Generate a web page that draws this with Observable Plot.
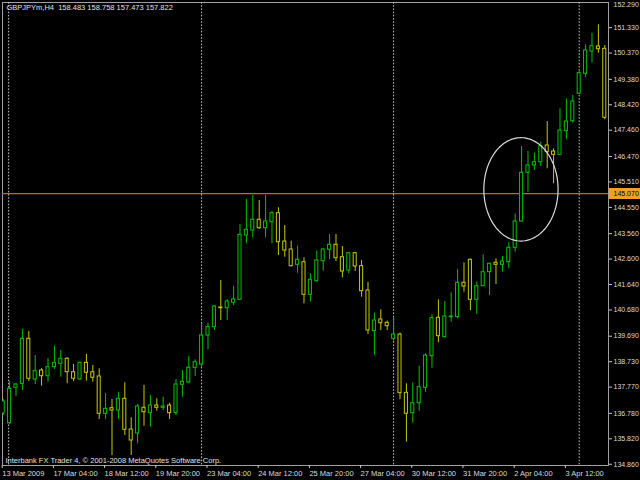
<!DOCTYPE html>
<html><head><meta charset="utf-8">
<script src="https://cdn.jsdelivr.net/npm/d3@7"></script>
<script src="https://cdn.jsdelivr.net/npm/@observablehq/plot@0.6"></script>
<style>html,body{margin:0;padding:0;background:#000;} #chart svg{display:block}</style>
</head><body><div id="chart"></div>
<script>
const headerText = "GBPJPYm,H4\u00a0\u00a0158.483 158.758 157.473 157.822";
const footerText = "Interbank FX Trader 4, \u00a9 2001-2008 MetaQuotes Software Corp.";

const opens = [136.775,136.409,137.744,137.894,139.592,138.057,138.397,138.182,138.521,138.649,
138.838,138.332,138.057,138.687,138.332,138.171,136.763,136.975,136.888,137.329,
136.171,136.020,136.990,136.786,137.076,136.990,137.076,136.786,137.858,137.944,
138.499,138.623,139.717,140.030,140.773,140.747,140.950,141.063,143.490,143.678,
144.082,143.765,143.992,144.331,143.263,142.961,142.384,142.483,141.252,141.765,
142.520,142.950,143.139,142.671,142.169,142.822,142.332,141.414,139.880,140.320,
140.196,139.592,139.755,137.555,136.786,137.163,137.744,138.936,140.385,139.653,
140.407,140.407,141.705,142.573,141.063,141.577,142.105,142.459,142.384,142.483,
143.026,144.018,145.855,146.130,146.254,146.884,146.658,146.533,147.424,147.801,
148.835,149.589,150.430,150.619,150.532];
const highs = [137.303,137.982,137.906,139.943,139.868,138.962,138.472,138.849,139.314,139.151,
138.876,138.623,138.710,139.000,138.585,138.461,137.518,137.303,137.578,137.933,
136.612,137.114,137.831,137.454,137.329,137.389,137.163,138.057,138.397,138.925,
138.800,140.170,140.181,140.849,141.791,141.063,141.565,143.905,144.848,144.999,
144.810,144.999,144.395,144.535,143.867,143.275,143.086,142.648,142.044,142.897,
142.988,143.527,143.527,143.074,142.860,142.860,142.546,141.727,140.560,140.686,
140.257,140.407,139.804,137.894,137.933,138.559,139.027,140.498,141.063,140.999,
141.327,142.207,142.459,142.600,141.727,142.761,142.444,142.610,142.697,143.214,
144.308,146.847,146.658,146.594,147.009,147.790,146.760,148.269,148.646,148.770,
149.676,150.683,151.120,151.437,150.657];
const lows = [136.699,136.360,137.416,137.642,137.982,137.869,137.804,137.955,138.434,138.144,
137.894,137.982,138.019,137.993,137.955,136.548,136.548,135.190,136.548,135.945,
135.190,135.632,136.296,136.258,136.861,136.888,136.548,136.699,137.389,137.894,
138.171,138.521,139.177,139.906,140.283,140.283,140.849,141.037,143.177,143.403,
143.716,143.403,143.177,142.735,142.671,142.302,142.068,140.913,140.973,141.735,
142.143,142.584,142.508,141.893,142.044,142.131,141.162,139.755,138.962,139.906,
139.906,139.502,137.291,135.692,136.409,136.861,137.578,138.484,139.442,139.630,
140.219,140.347,141.350,140.660,140.509,141.565,141.226,141.640,142.105,142.233,
142.860,143.992,145.123,145.941,146.092,146.005,145.440,146.507,147.099,147.726,
148.808,149.438,150.004,150.366,147.854];
const closes = [137.227,137.706,137.869,139.592,138.084,138.370,138.182,138.521,138.687,138.838,
138.332,138.084,138.687,138.310,138.122,136.763,136.952,136.888,137.329,136.160,
135.756,137.039,136.824,137.076,136.990,137.039,136.786,137.869,137.971,138.499,
138.710,139.717,140.030,140.811,140.747,140.999,141.075,143.516,143.705,144.082,
143.765,144.018,144.331,143.237,142.924,142.332,142.573,141.252,141.818,142.546,
142.961,143.139,142.633,142.131,142.822,142.320,141.388,139.906,140.283,140.181,
140.068,139.755,137.540,136.763,137.163,137.767,138.962,140.370,139.691,140.434,
140.434,141.705,141.565,141.063,141.577,142.105,142.422,142.384,142.508,143.026,
144.018,145.855,146.130,146.254,146.858,146.632,146.533,147.450,147.790,148.544,
149.612,150.468,150.630,150.517,147.930];

const xTickBars = [0,8,16,24,32,40,48,56,64,72,80,88];
const xTickLabels = ["13 Mar 2009","17 Mar 04:00","18 Mar 12:00","19 Mar 20:00","23 Mar 04:00","24 Mar 12:00","25 Mar 20:00","27 Mar 04:00","30 Mar 12:00","31 Mar 20:00","2 Apr 04:00","3 Apr 12:00"];
const yTicks = [152.29,151.33,150.37,149.38,148.42,147.46,146.47,145.51,144.55,143.56,142.60,141.64,140.68,139.69,138.73,137.77,136.78,135.82,134.86];
const separatorBars = [0.85,31,61,90];
const priceLine = 145.07;
const ellipseCenterBar = 80.9, ellipseCenterPrice = 145.23;
const ellipseRadiusBars = 5.8, ellipseRadiusPrice = 1.95;

const bars = opens.map((o, i) => ({i, open: o, high: highs[i], low: lows[i], close: closes[i], up: closes[i] >= o}));
const labelMap = new Map(xTickBars.map((b, k) => [b, xTickLabels[k]]));
const ellipse = d3.range(0, 121).map(k => {
  const t = k / 120 * 2 * Math.PI;
  return {x: ellipseCenterBar + ellipseRadiusBars * Math.cos(t), y: ellipseCenterPrice + ellipseRadiusPrice * Math.sin(t)};
});

const GREEN = "#00c400", YELLOW = "#c8c800";
const col = d => d.up ? GREEN : YELLOW;
const fmt = d3.format(".3f");
const topTick = yTicks[0];
const innerTicks = yTicks.slice(1);

const chart = Plot.plot({
  width: 640, height: 480,
  marginTop: 2, marginBottom: 15, marginLeft: 2, marginRight: 32,
  style: {background: "#000", color: "#e0e0e0", fontFamily: "'Liberation Sans', Arial, sans-serif", fontSize: "7.5px"},
  x: {type: "linear", domain: [-0.11, 94.58], axis: null},
  y: {domain: [134.813, 152.279], axis: null},
  marks: [
    Plot.frame({stroke: "#a0a0a0"}),
    Plot.ruleX(separatorBars, {x: d => d, stroke: "#c4c4c4", strokeDasharray: "1.6,1.6"}),
    Plot.ruleY([priceLine], {y: d => d, stroke: "#d06a00", strokeWidth: 1.2}),
    Plot.ruleX(bars, {x: "i", y1: "low", y2: "high", stroke: col, clip: true}),
    Plot.rect(bars, {x1: d => d.i - 0.24, x2: d => d.i + 0.24,
      y1: d => Math.min(d.open, d.close), y2: d => Math.max(d.open, d.close),
      fill: "#000", stroke: col, clip: true}),
    Plot.line(ellipse, {x: "x", y: "y", stroke: "#dcdcdc", strokeWidth: 1.2, curve: "linear-closed"}),
    Plot.axisY(innerTicks, {anchor: "right", tickSize: 3, tickPadding: 2, tickFormat: fmt, stroke: "#c8c8c8", fill: "#dcdcdc", fontSize: 7}),
    Plot.text([topTick], {y: d => d, frameAnchor: "right", dx: 5, textAnchor: "start", lineAnchor: "top", text: d => fmt(d), fill: "#dcdcdc", fontSize: 7}),
    Plot.axisX(xTickBars, {anchor: "bottom", tickSize: 3, tickPadding: 2, tickFormat: d => labelMap.get(d), textAnchor: "start", dx: -1, stroke: "#c8c8c8", fill: "#dcdcdc", fontSize: 7.5}),
    Plot.ruleY([priceLine], {y: d => d, x1: () => 94.72, x2: () => 99.9, stroke: "#f0a028", strokeWidth: 11}),
    Plot.text([priceLine], {y: d => d, frameAnchor: "right", dx: 5, textAnchor: "start", text: d => fmt(d), fill: "#000", fontSize: 7}),
    Plot.text([headerText], {frameAnchor: "top-left", dx: 4, dy: 2, lineAnchor: "top", textAnchor: "start", fill: "#e0e0e0", fontSize: 7.5}),
    Plot.text([footerText], {frameAnchor: "bottom-left", dx: 3, dy: -3, lineAnchor: "bottom", textAnchor: "start", fill: "#e0e0e0", fontSize: 7.5})
  ]
});
document.getElementById("chart").appendChild(chart);
</script>
</body></html>
